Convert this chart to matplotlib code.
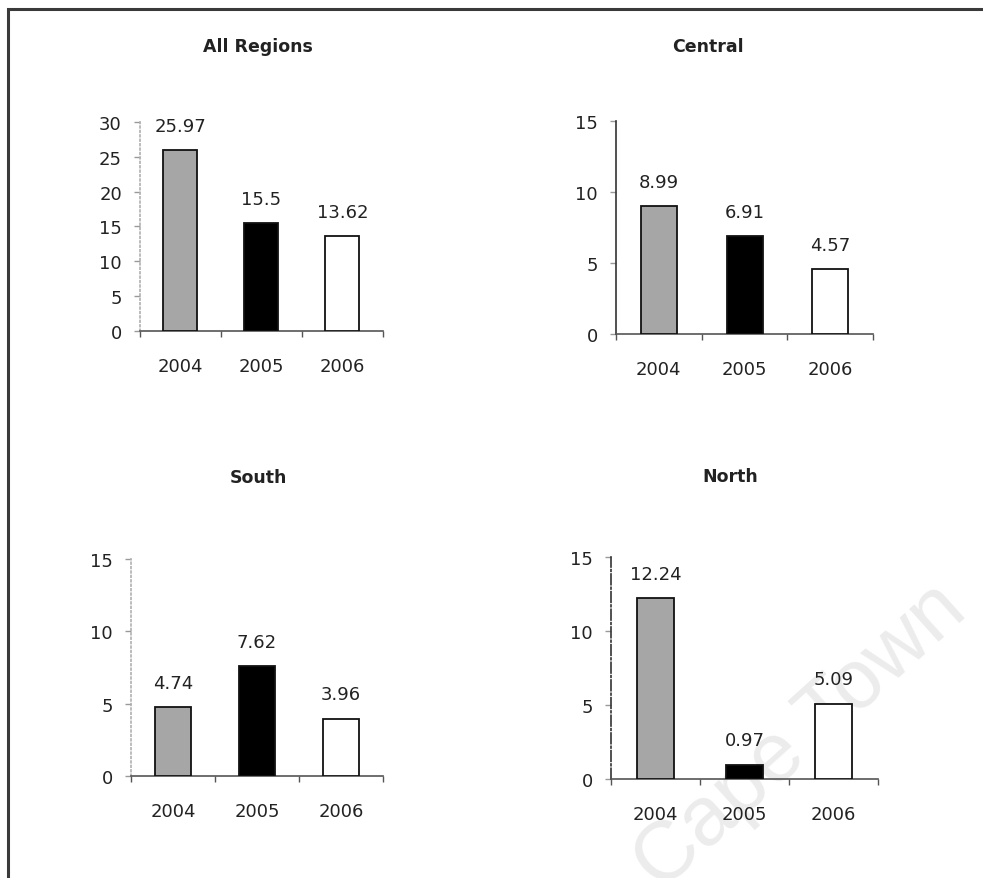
import matplotlib.pyplot as plt
from matplotlib.patches import Rectangle

years = ["2004", "2005", "2006"]

all_regions = [25.97, 15.5, 13.62]
central = [8.99, 6.91, 4.57]
south = [4.74, 7.62, 3.96]
north = [12.24, 0.97, 5.09]

panel_titles = ["All Regions", "Central", "South", "North"]
panel_values = [all_regions, central, south, north]
y_limits = [30, 15, 15, 15]
y_steps = [5, 5, 5, 5]

bar_faces = ["#a6a6a6", "#000000", "#ffffff"]

# axes boxes in figure fractions: left, bottom, width, height
boxes = [
    [0.1424, 0.6223, 0.2472, 0.2378],
    [0.6267, 0.6189, 0.2614, 0.2423],
    [0.1333, 0.1160, 0.2564, 0.2469],
    [0.6216, 0.1126, 0.2716, 0.2526],
]
title_pos = [(258, 47), (708, 47), (258, 478), (730, 477)]
left_spine = [(":", "#b0b0b0"), ("-", "#333333"), (":", "#b0b0b0"), ("-.", "#333333")]

W, H = 983, 879
fig = plt.figure(figsize=(W / 100, H / 100), dpi=100)
fig.patch.set_facecolor("white")

# page frame, open to the right and bottom
fig.add_artist(Rectangle((8 / W, -0.05), 1.2, 1 - 10 / H + 0.05,
                         transform=fig.transFigure, fill=False,
                         edgecolor="#3a3a3a", linewidth=2.2, zorder=5))

# faint watermark behind the charts
fig.text(800 / W, 1 - 737 / H, "Cape Town", fontsize=60, family="Liberation Sans",
         color="#ececec", rotation=42, ha="center", va="center", zorder=-1)

x = list(range(len(years)))
for box, title, vals, ymax, step, (ls, lc), (tx, ty) in zip(
        boxes, panel_titles, panel_values, y_limits, y_steps, left_spine, title_pos):
    ax = fig.add_axes(box)
    ax.patch.set_alpha(0)
    ax.bar(x, vals, width=0.42, color=bar_faces, edgecolor="#111111", linewidth=1.3, zorder=3)
    for xi, v in zip(x, vals):
        ax.annotate(f"{v:g}", (xi, v), xytext=(0, 11), textcoords="offset points",
                    ha="center", va="bottom", fontsize=13, color="#222222")

    ax.set_xlim(-0.5, 2.5)
    ax.set_ylim(0, ymax)
    ax.set_yticks(range(0, ymax + 1, step))
    ax.set_xticks(x)
    ax.set_xticklabels(years)
    ax.set_xticks([-0.5, 0.5, 1.5, 2.5], minor=True)

    for side in ("top", "right"):
        ax.spines[side].set_visible(False)
    ax.spines["bottom"].set_color("#555555")
    ax.spines["bottom"].set_linewidth(1.2)
    ax.spines["left"].set_linestyle(ls)
    ax.spines["left"].set_color(lc)
    ax.spines["left"].set_linewidth(1.2)

    ax.tick_params(axis="x", which="major", length=0, pad=19, labelsize=13, labelcolor="#222222")
    ax.tick_params(axis="x", which="minor", length=4, width=1, color="#555555", direction="out")
    ax.tick_params(axis="y", length=4, width=1, color="#999999", pad=9,
                   labelsize=13, labelcolor="#222222")

    fig.text(tx / W, 1 - ty / H, title, ha="center", va="center",
             fontsize=12.5, fontweight="bold", color="#222222")

fig.savefig("out.png", dpi=100)
